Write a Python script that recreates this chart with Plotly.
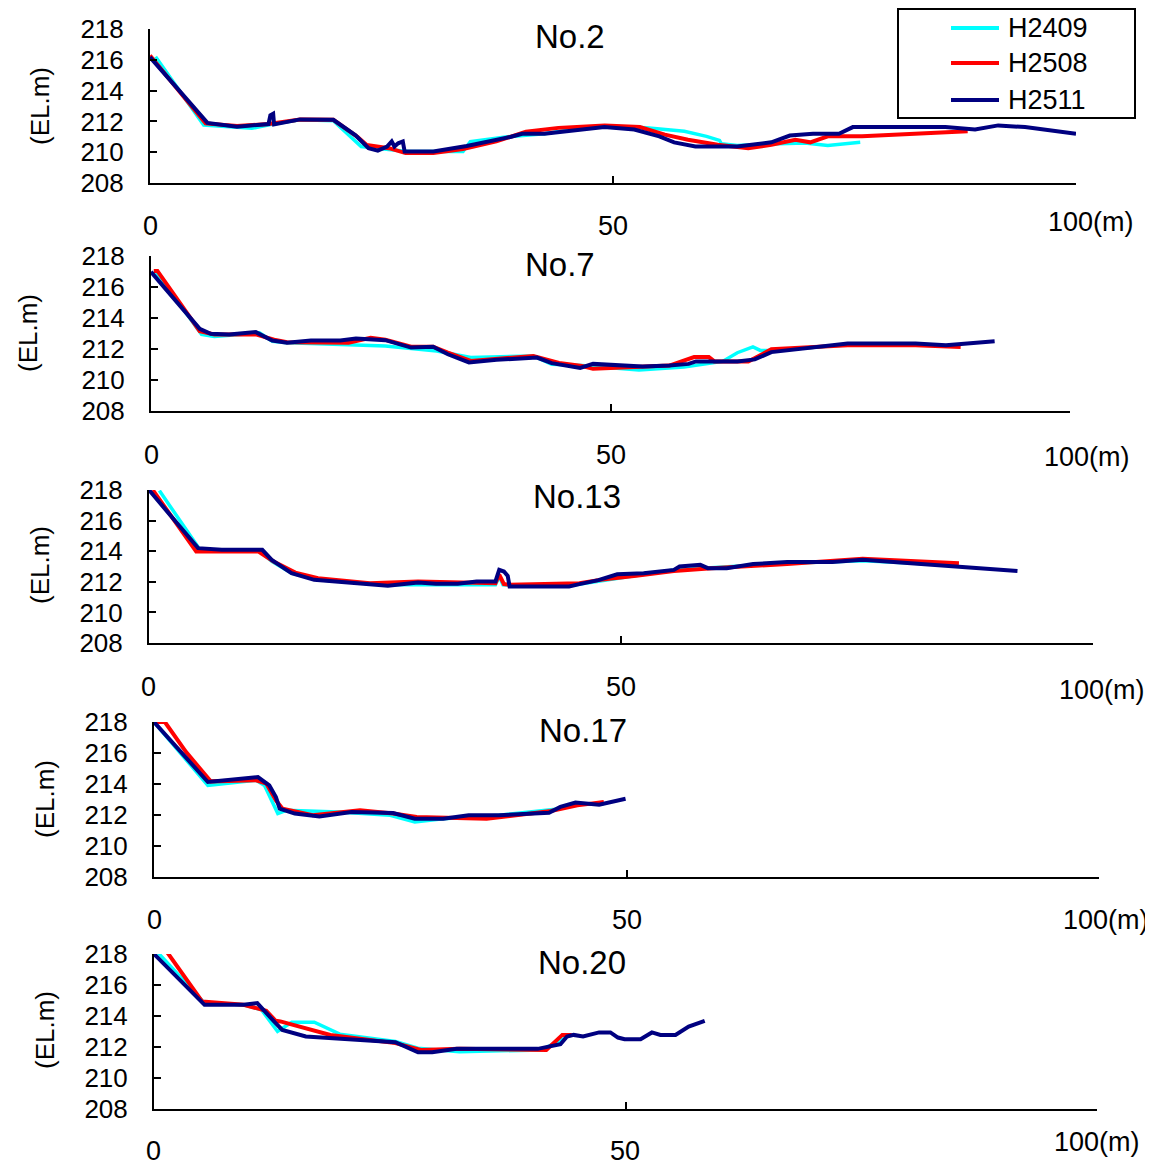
import plotly.graph_objects as go

W, H = 1153, 1168
OFF = 8                      # default body margin of the html page
FW, FH = W - OFF, H - OFF    # figure size
FONT = "Liberation Sans"

series_names = ["H2409", "H2508", "H2511"]
series_colors = ["#00FFFF", "#FF0000", "#000080"]
series_widths = [3.5, 4, 4]
panel_titles = ["No.2", "No.7", "No.13", "No.17", "No.20"]
y_ticks = [208, 210, 212, 214, 216, 218]
x_tick_labels = ["0", "50", "100(m)"]
x_tick_vals = [0, 50, 100]

# ---- No.2 ----
no2_h2409_x = [0.6, 5.8, 11.0, 13.0, 16.2, 19.8, 22.8, 25.8, 27.8, 33.8, 34.6, 38.6, 42.6, 46.5, 49.1, 53.6, 57.7, 60.1, 61.5, 61.7, 63.4, 67.1, 70.7, 73.2, 76.7]
no2_h2409_y = [216.2, 211.76, 211.55, 211.8, 212.1, 212.05, 210.37, 210.15, 210.04, 210.04, 210.69, 211.0, 211.2, 211.55, 211.7, 211.58, 211.36, 211.03, 210.77, 210.55, 210.44, 210.53, 210.6, 210.44, 210.64]
no2_h2508_x = [0, 6.0, 9.4, 12.8, 16.2, 19.8, 22.4, 23.4, 25.8, 27.6, 30.6, 33.8, 37.4, 40.6, 44.1, 49.1, 52.9, 55.6, 58.1, 61.3, 64.6, 67.1, 69.7, 71.3, 73.2, 76.9, 88.3]
no2_h2508_y = [216.28, 211.87, 211.7, 211.83, 212.13, 212.1, 211.0, 210.47, 210.26, 209.94, 209.94, 210.2, 210.7, 211.33, 211.58, 211.74, 211.63, 211.14, 210.81, 210.48, 210.26, 210.48, 210.81, 210.64, 211.03, 211.03, 211.36]
no2_h2511_x = [0, 6.2, 9.4, 12.8, 13.0, 13.3, 13.4, 16.2, 19.8, 22.2, 23.6, 24.6, 25.6, 26.1, 26.4, 26.8, 27.3, 27.5, 30.6, 34.2, 39.0, 40.2, 42.6, 46.5, 49.06, 52.3, 55.0, 56.6, 58.9, 63.4, 67.1, 69.1, 71.6, 74.4, 75.9, 85.9, 89.1, 91.6, 94.5, 100.0]
no2_h2511_y = [216.17, 211.9, 211.66, 211.83, 212.4, 212.5, 211.8, 212.13, 212.1, 211.1, 210.26, 210.1, 210.37, 210.7, 210.37, 210.58, 210.7, 210.04, 210.04, 210.4, 211.0, 211.2, 211.2, 211.44, 211.63, 211.47, 211.03, 210.64, 210.37, 210.37, 210.64, 211.08, 211.19, 211.19, 211.63, 211.63, 211.47, 211.74, 211.63, 211.2]

# ---- No.7 ----
no7_h2409_x = [0.5, 5.5, 6.9, 11.8, 13.2, 14.8, 19.8, 25.5, 31.1, 34.8, 41.6, 43.6, 46.9, 53.1, 58.0, 62.2, 63.8, 65.5, 66.3, 67.5, 75.8, 83.2, 86.5]
no7_h2409_y = [217.04, 212.94, 212.8, 213.04, 212.5, 212.4, 212.3, 212.2, 211.87, 211.45, 211.55, 211.02, 210.93, 210.65, 210.83, 211.2, 211.76, 212.13, 211.91, 211.91, 212.28, 212.3, 212.2]
no7_h2508_x = [0.3, 0.7, 5.3, 6.9, 11.4, 13.4, 14.8, 21.5, 23.9, 25.5, 28.3, 30.7, 32.3, 34.8, 41.6, 44.4, 46.9, 48.1, 56.4, 59.1, 60.7, 61.3, 65.0, 67.5, 75.8, 83.2, 88.1]
no7_h2508_y = [217.04, 217.04, 213.15, 212.94, 212.94, 212.6, 212.43, 212.4, 212.72, 212.6, 212.15, 212.15, 211.77, 211.23, 211.55, 211.1, 210.9, 210.72, 210.93, 211.48, 211.48, 211.2, 211.2, 211.98, 212.24, 212.24, 212.13]
no7_h2511_x = [0, 5.3, 6.5, 8.5, 11.4, 13.2, 14.8, 17.4, 20.6, 22.3, 25.5, 28.3, 30.7, 32.3, 34.6, 37.6, 42.0, 43.6, 46.7, 48.1, 53.5, 56.4, 58.5, 59.3, 63.8, 65.7, 67.5, 75.8, 83.2, 86.5, 91.8]
no7_h2511_y = [216.98, 213.3, 212.98, 212.94, 213.09, 212.55, 212.4, 212.55, 212.55, 212.68, 212.57, 212.09, 212.15, 211.66, 211.13, 211.3, 211.45, 211.09, 210.78, 211.04, 210.87, 210.93, 211.04, 211.2, 211.2, 211.33, 211.8, 212.35, 212.35, 212.24, 212.5]

# ---- No.13 ----
no13_h2409_x = [1.1, 5.4, 11.6, 13.0, 15.1, 17.9, 25.3, 36.7, 37.1, 37.5, 44.5, 47.6, 55.6, 67.6, 75.6, 85.0]
no13_h2409_y = [217.96, 214.09, 214.09, 213.33, 212.57, 212.13, 211.8, 211.8, 212.35, 211.8, 211.74, 212.04, 212.78, 213.22, 213.38, 213.1]
no13_h2508_x = [0.4, 5.0, 11.6, 13.2, 15.5, 17.9, 23.4, 28.5, 36.7, 37.1, 37.6, 38.2, 45.6, 47.6, 51.6, 55.6, 59.6, 67.6, 75.6, 79.6, 85.8]
no13_h2508_y = [218.0, 213.98, 213.98, 213.33, 212.6, 212.24, 211.91, 212.02, 211.91, 212.46, 211.85, 211.8, 211.91, 212.11, 212.4, 212.71, 212.89, 213.16, 213.51, 213.38, 213.22]
no13_h2511_x = [0, 5.2, 7.7, 12.0, 13.0, 15.1, 17.5, 25.3, 28.5, 30.4, 32.7, 34.7, 36.7, 37.1, 37.6, 38.0, 38.2, 44.5, 45.6, 47.6, 49.6, 52.4, 55.6, 56.2, 58.4, 59.2, 61.2, 64.0, 67.6, 72.4, 75.6, 85.6, 92.0]
no13_h2511_y = [218.0, 214.2, 214.09, 214.09, 213.43, 212.57, 212.13, 211.74, 211.96, 211.87, 211.87, 212.02, 212.02, 212.78, 212.67, 212.39, 211.7, 211.7, 211.85, 212.11, 212.49, 212.56, 212.78, 213.0, 213.11, 212.89, 212.89, 213.16, 213.29, 213.29, 213.44, 213.0, 212.71]

# ---- No.17 ----
no17_h2409_x = [0, 5.7, 10.8, 11.7, 13.1, 14.0, 19.5, 25.0, 27.6, 30.6, 36.5, 43.0, 44.8, 47.6]
no17_h2409_y = [218.0, 213.91, 214.24, 213.91, 212.09, 212.3, 212.19, 211.98, 211.55, 211.76, 211.98, 212.41, 212.73, 212.73]
no17_h2508_x = [0, 1.15, 3.4, 6.0, 10.8, 11.9, 12.9, 13.6, 16.8, 21.8, 25.3, 27.8, 35.2, 42.0, 44.8, 47.6]
no17_h2508_y = [218.0, 218.0, 216.06, 214.17, 214.24, 214.02, 212.95, 212.41, 211.98, 212.3, 212.09, 211.87, 211.76, 212.26, 212.62, 212.84]
no17_h2511_x = [0, 5.7, 11.0, 12.2, 12.9, 13.3, 14.9, 17.5, 20.9, 25.3, 27.6, 30.6, 33.3, 36.5, 41.8, 43.0, 44.6, 47.1, 49.9]
no17_h2511_y = [218.0, 214.13, 214.45, 213.91, 213.16, 212.41, 212.09, 211.91, 212.19, 212.13, 211.76, 211.76, 211.98, 211.98, 212.15, 212.52, 212.8, 212.67, 213.05]

# ---- No.20 ----
no20_h2409_x = [0.4, 5.36, 9.5, 11.4, 13.1, 14.6, 17.0, 19.7, 25.6, 28.0, 32.4, 41.1, 43.6]
no20_h2409_y = [218.1, 214.83, 214.72, 214.4, 213.0, 213.6, 213.6, 212.83, 212.35, 211.92, 211.7, 211.81, 212.57]
no20_h2508_x = [0.7, 1.2, 5.1, 9.5, 11.9, 12.9, 13.4, 18.7, 25.6, 28.3, 32.4, 41.6, 43.3, 44.3]
no20_h2508_y = [218.6, 218.28, 214.94, 214.72, 214.34, 213.69, 213.65, 212.78, 212.25, 211.81, 211.88, 211.81, 212.78, 212.78]
no20_h2511_x = [0, 5.36, 9.5, 10.95, 12.9, 13.6, 16.1, 25.6, 28.0, 29.5, 32.1, 40.7, 43.1, 43.8, 44.5, 45.5, 47.2, 48.4, 49.2, 49.9, 51.6, 52.8, 53.7, 55.3, 56.7, 58.4]
no20_h2511_y = [218.0, 214.72, 214.72, 214.83, 213.54, 213.1, 212.68, 212.31, 211.66, 211.66, 211.88, 211.88, 212.18, 212.68, 212.78, 212.68, 212.94, 212.94, 212.61, 212.5, 212.5, 212.94, 212.78, 212.78, 213.32, 213.69]

panel_data = [
    [(no2_h2409_x, no2_h2409_y), (no2_h2508_x, no2_h2508_y), (no2_h2511_x, no2_h2511_y)],
    [(no7_h2409_x, no7_h2409_y), (no7_h2508_x, no7_h2508_y), (no7_h2511_x, no7_h2511_y)],
    [(no13_h2409_x, no13_h2409_y), (no13_h2508_x, no13_h2508_y), (no13_h2511_x, no13_h2511_y)],
    [(no17_h2409_x, no17_h2409_y), (no17_h2508_x, no17_h2508_y), (no17_h2511_x, no17_h2511_y)],
    [(no20_h2409_x, no20_h2409_y), (no20_h2508_x, no20_h2508_y), (no20_h2511_x, no20_h2511_y)],
]


def fx(px):
    return (px - OFF) / FW


def fy(py):
    return 1 - (py - OFF) / FH


# layout geometry (page pixels)
px_left = [150, 151, 149, 154, 154]
px_right = [1076, 1070, 1093, 1099, 1097]
px_top = [29, 256, 490, 722, 954]
px_bot = [183, 411, 643, 877, 1109]
title_pos = [(570, 36), (560, 265), (577, 497), (583, 730), (582, 962)]
ytitle_pos = [(40, 106), (28, 333), (40, 565), (45, 799), (45, 1030)]
xlab_y = [[226, 226, 222], [455, 455, 457], [687, 687, 690], [920, 920, 920], [1151, 1151, 1142]]
xlab_shift = [[0, 0, 15], [0, 0, 17], [-1, 0, 9], [0, 0, 7], [-1, -1, 0]]

fig = go.Figure()
for p in range(5):
    ax = "" if p == 0 else str(p + 1)
    for s in range(3):
        xs, ys = panel_data[p][s]
        fig.add_trace(go.Scatter(
            x=xs, y=ys, mode="lines", name=series_names[s],
            line=dict(color=series_colors[s], width=series_widths[s]),
            legendgroup=series_names[s], showlegend=False,
            xaxis="x" + ax, yaxis="y" + ax,
        ))
    xa = dict(domain=[fx(px_left[p]), fx(px_right[p])], range=[0, 100],
              showline=True, linecolor="black", linewidth=2, mirror=False,
              ticks="inside", ticklen=7, tickwidth=2, tickcolor="black",
              tickvals=[50, 100], showticklabels=False, showgrid=False, zeroline=False,
              anchor="y" + ax, fixedrange=True, automargin=False)
    ya = dict(domain=[fy(px_bot[p]), fy(px_top[p])], range=[208, 218],
              showline=True, linecolor="black", linewidth=2,
              ticks="inside", ticklen=7, tickwidth=2, tickcolor="black",
              tickvals=y_ticks, ticktext=[str(v) for v in y_ticks],
              tickfont=dict(family=FONT, size=26, color="black"),
              ticklabelstandoff=19, ticklabeloverflow="allow",
              showgrid=False, zeroline=False, anchor="x" + ax, fixedrange=True,
              automargin=False)
    fig.update_layout({("xaxis" + ax): xa, ("yaxis" + ax): ya})
    # panel title
    fig.add_annotation(text=panel_titles[p], x=fx(title_pos[p][0]), y=fy(title_pos[p][1]),
                       xref="paper", yref="paper", xanchor="center", yanchor="middle",
                       showarrow=False, font=dict(family=FONT, size=33, color="black"))
    # y-axis title
    fig.add_annotation(text="(EL.m)", x=fx(ytitle_pos[p][0]), y=fy(ytitle_pos[p][1]),
                       xref="paper", yref="paper", xanchor="center", yanchor="middle",
                       showarrow=False, textangle=-90,
                       font=dict(family=FONT, size=26, color="black"))
    # x tick labels
    for k in range(3):
        fig.add_annotation(text=x_tick_labels[k], x=x_tick_vals[k], y=fy(xlab_y[p][k]),
                           xref="x" + ax, yref="paper", xanchor="center", yanchor="middle",
                           showarrow=False, xshift=xlab_shift[p][k],
                           font=dict(family=FONT, size=27, color="black"))

# legend (box, line samples, labels) in the top panel's corner
leg_box = (898, 9, 1135, 118)
leg_line_x = (951, 999)
leg_row_y = [28, 63, 100]
leg_text_x = 1006
fig.add_shape(type="rect", xref="paper", yref="paper",
              x0=fx(leg_box[0]), x1=fx(leg_box[2]), y0=fy(leg_box[3]), y1=fy(leg_box[1]),
              line=dict(color="black", width=2), fillcolor="white", layer="above")
for s in range(3):
    fig.add_shape(type="line", xref="paper", yref="paper",
                  x0=fx(leg_line_x[0]), x1=fx(leg_line_x[1]),
                  y0=fy(leg_row_y[s]), y1=fy(leg_row_y[s]),
                  line=dict(color=series_colors[s], width=4), layer="above")
    fig.add_annotation(text=series_names[s], x=fx(leg_text_x), y=fy(leg_row_y[s]),
                       xref="paper", yref="paper", xanchor="left", yanchor="middle",
                       showarrow=False, font=dict(family=FONT, size=27, color="black"))

fig.update_layout(
    width=FW, height=FH, autosize=False,
    margin=dict(l=0, r=0, t=0, b=0, autoexpand=False),
    paper_bgcolor="white", plot_bgcolor="rgba(0,0,0,0)",
    font=dict(family=FONT, color="black"),
    showlegend=False,
)

fig.write_html("out.html")
